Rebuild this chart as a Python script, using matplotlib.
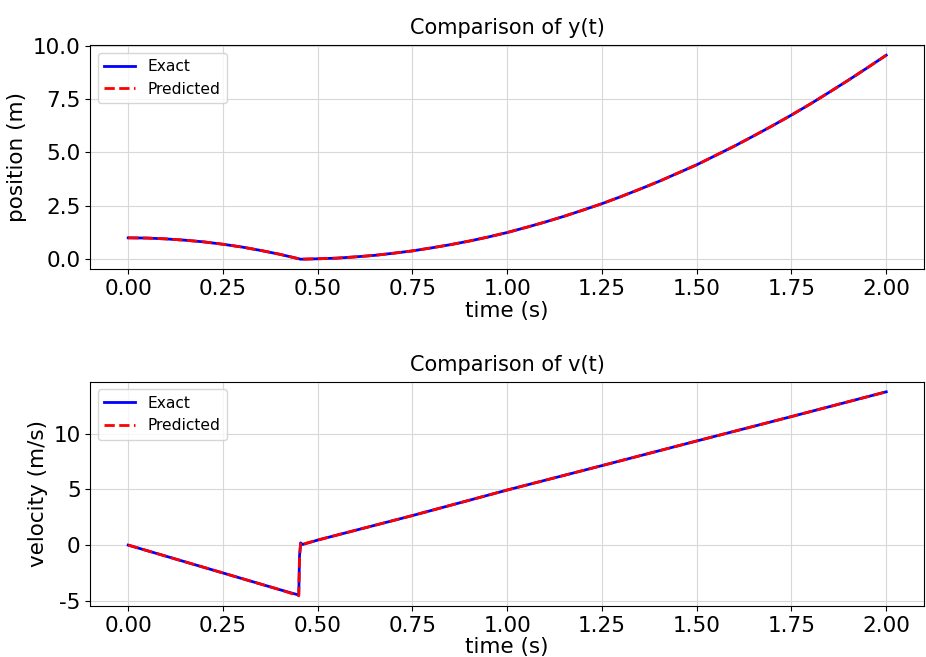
import numpy as np
import matplotlib.pyplot as plt

# values
t_pos = [0.00, 0.05, 0.10, 0.15, 0.20, 0.25, 0.30, 0.35, 0.40, 0.455, 0.50, 0.55,
         0.60, 0.65, 0.70, 0.75, 0.80, 0.85, 0.90, 0.95, 1.00, 1.05, 1.10, 1.15,
         1.20, 1.25, 1.30, 1.35, 1.40, 1.45, 1.50, 1.55, 1.60, 1.65, 1.70, 1.75,
         1.80, 1.85, 1.90, 1.95, 2.00]
y_exact = [1.00, 0.99, 0.95, 0.89, 0.81, 0.70, 0.57, 0.41, 0.23, 0.00, 0.02, 0.05,
           0.11, 0.18, 0.28, 0.39, 0.53, 0.68, 0.85, 1.04, 1.25, 1.49, 1.74, 2.01,
           2.30, 2.60, 2.93, 3.28, 3.64, 4.03, 4.42, 4.86, 5.30, 5.77, 6.25, 6.75,
           7.27, 7.82, 8.38, 8.96, 9.55]
y_pred = list(y_exact)

t_vel = [0.00, 0.10, 0.20, 0.30, 0.40, 0.450, 0.452, 0.455, 0.460, 0.50, 0.75,
         1.00, 1.25, 1.50, 1.75, 2.00]
v_exact = [0.00, -1.00, -2.00, -3.00, -4.00, -4.48, -1.00, 0.20, 0.05, 0.45, 2.65,
           4.94, 7.13, 9.34, 11.53, 13.75]
v_pred = [0.00, -1.00, -2.00, -3.00, -4.00, -4.55, -1.20, 0.25, 0.08, 0.45, 2.65,
          4.94, 7.13, 9.34, 11.53, 13.75]

fig, (ax_y, ax_v) = plt.subplots(2, 1, figsize=(9.26, 6.57), dpi=100)
fig.subplots_adjust(left=0.0975, right=0.998, top=0.9315, bottom=0.0776, hspace=0.5)

ax_y.plot(t_pos, y_exact, color="blue", lw=2, label="Exact")
ax_y.plot(t_pos, y_pred, color="red", lw=2, ls="--", label="Predicted")
ax_y.set_title("Comparison of y(t)", fontsize=15, pad=8)
ax_y.set_xlabel("time (s)", fontsize=15.5, labelpad=1)
ax_y.set_ylabel("position (m)", fontsize=15.5)
ax_y.set_yticks([0.0, 2.5, 5.0, 7.5, 10.0])

ax_v.plot(t_vel, v_exact, color="blue", lw=2, label="Exact")
ax_v.plot(t_vel, v_pred, color="red", lw=2, ls="--", label="Predicted")
ax_v.set_title("Comparison of v(t)", fontsize=15, pad=8)
ax_v.set_xlabel("time (s)", fontsize=15.5, labelpad=1)
ax_v.set_ylabel("velocity (m/s)", fontsize=15.5)
ax_v.set_yticks([-5, 0, 5, 10])
ax_v.set_yticklabels(["-5", "0", "5", "10"])

for ax in (ax_y, ax_v):
    ax.tick_params(labelsize=15.5)
    ax.grid(True, color="#d8d8d8", lw=0.8)
    ax.set_xticks(np.arange(0, 2.01, 0.25))
    ax.legend(loc="upper left", fontsize=11.2)

plt.savefig("out.png", dpi=100)
